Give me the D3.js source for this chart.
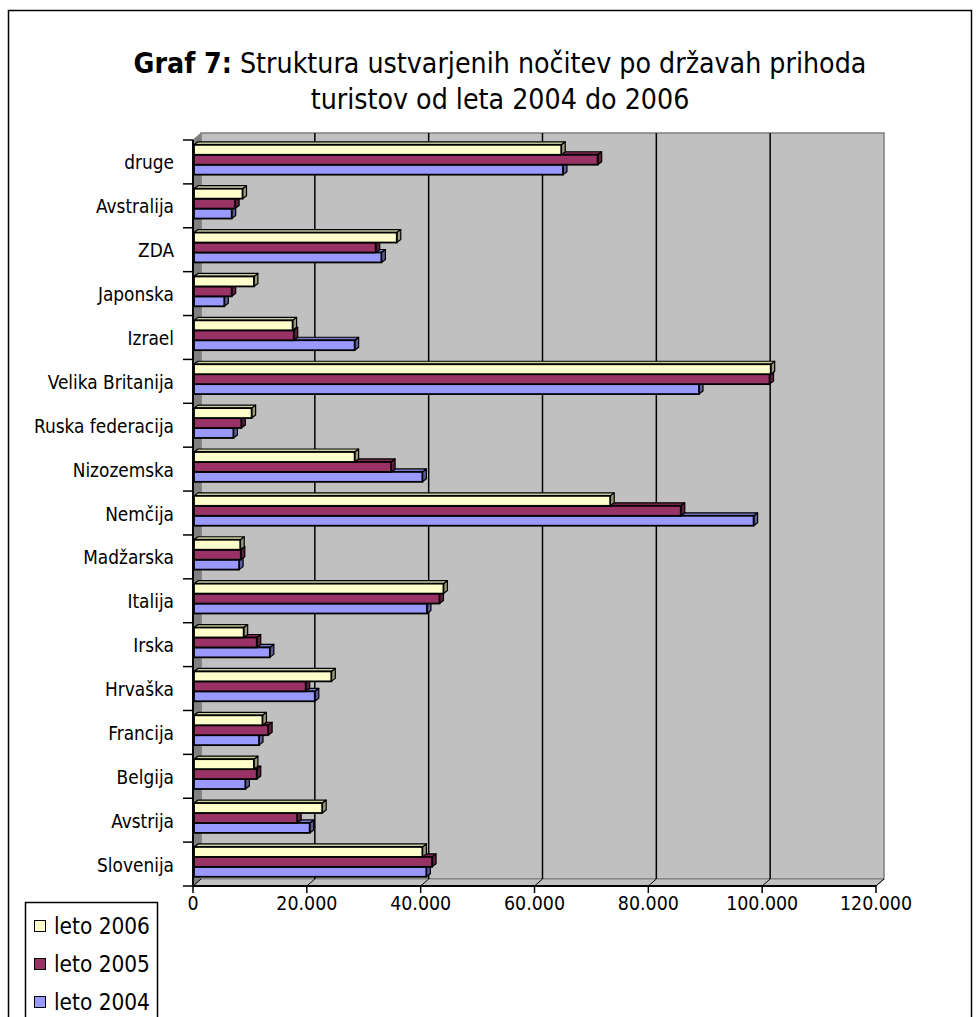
<!DOCTYPE html>
<html>
<head>
<meta charset="utf-8">
<script src="https://cdn.jsdelivr.net/npm/d3@7"></script>
<style>
  html, body { margin: 0; padding: 0; background: #fff; }
  svg { display: block; }
  text { font-family: Tahoma, "DejaVu Sans Condensed", "DejaVu Sans", sans-serif; fill: #000; }
</style>
</head>
<body>
<svg id="chart" width="980" height="1017"></svg>
<script>
// Countries, bottom to top as they appear on the category axis
const categories = ["Slovenija", "Avstrija", "Belgija", "Francija", "Hrvaška", "Irska", "Italija",
  "Madžarska", "Nemčija", "Nizozemska", "Ruska federacija", "Velika Britanija", "Izrael",
  "Japonska", "ZDA", "Avstralija", "druge"];

// Overnight stays per year
const leto2006 = [40300, 22700, 10700, 12200, 24300, 8900, 44000, 8300, 73300, 28400, 10300, 101500, 17500, 10700, 35800, 8700, 64700];
const leto2005 = [42000, 18300, 11200, 13200, 19800, 11200, 43300, 8400, 85700, 34800, 8500, 101300, 17700, 6800, 32100, 7400, 71100];
const leto2004 = [41000, 20500, 9200, 11600, 21400, 13500, 41100, 8100, 98500, 40300, 7100, 88900, 28400, 5500, 33100, 6800, 65000];

const seriesNames = ["leto 2006", "leto 2005", "leto 2004"];
const seriesColors = ["#FFFFCC", "#993366", "#9999FF"];
const xTicks = [0, 20000, 40000, 60000, 80000, 100000, 120000];

const series = [
  { name: seriesNames[0], values: leto2006, color: seriesColors[0] },
  { name: seriesNames[1], values: leto2005, color: seriesColors[1] },
  { name: seriesNames[2], values: leto2004, color: seriesColors[2] }
];

const svg = d3.select("#chart");
const fmt = d3.formatLocale({ decimal: ",", thousands: ".", grouping: [3], currency: ["", " €"] }).format(",d");

// Font size that makes a sample string a given width
function fitSize(sample, targetWidth, base) {
  const probe = svg.append("text").style("font-size", base + "px").text(sample);
  const w = probe.node().getComputedTextLength();
  probe.remove();
  return base * targetWidth / w;
}
const labelSize = fitSize("Slovenija", 77, 16);
const tickSize = fitSize("20.000", 61, 16);
const legendSize = fitSize("leto 2006", 96, 16);

// Outer frame
svg.append("rect").attr("x", 8.5).attr("y", 10.5).attr("width", 963).attr("height", 1030)
  .attr("fill", "#fff").attr("stroke", "#000").attr("stroke-width", 1.5);

// Title
const title = svg.append("g");
const t1 = title.append("text").attr("x", 500).attr("y", 73).attr("text-anchor", "middle").style("font-size", "25px");
t1.append("tspan").attr("font-weight", "bold").text("Graf 7:");
t1.append("tspan").text(" Struktura ustvarjenih nočitev po državah prihoda");
const t2 = title.append("text").attr("x", 500).attr("y", 109).attr("text-anchor", "middle").style("font-size", "25px")
  .text("turistov od leta 2004 do 2006");
const w1 = t1.node().getComputedTextLength();
const titleSize = 25 * 733 / w1;
t1.style("font-size", titleSize + "px");
t2.style("font-size", titleSize + "px");

// Scales
const x = d3.scaleLinear().domain([0, 120000]).range([193, 876]);
const y = d3.scaleBand().domain(categories.slice().reverse()).range([140, 886]);
const bw = y.bandwidth();
const yIn = d3.scaleBand().domain(seriesNames).range([bw * 0.11, bw * 0.79]);

// Depth of the walls and of the bars
const DX = 8, DY = -7;
const BDX = 4, BDY = -3;

const x0 = x(0), xMax = x(120000), yTop = 140, yBot = 886;

// Back wall
svg.append("polygon")
  .attr("points", [[x0 + DX, yTop + DY], [xMax + DX, yTop + DY], [xMax + DX, yBot + DY], [x0 + DX, yBot + DY]].join(" "))
  .attr("fill", "#C0C0C0").attr("stroke", "#808080").attr("stroke-width", 1.5);
// Side wall
svg.append("polygon")
  .attr("points", [[x0, yTop], [x0 + DX, yTop + DY], [x0 + DX, yBot + DY], [x0, yBot]].join(" "))
  .attr("fill", "#808080").attr("stroke", "#808080").attr("stroke-width", 1);
// Floor
svg.append("polygon")
  .attr("points", [[x0, yBot], [x0 + DX, yBot + DY], [xMax + DX, yBot + DY], [xMax, yBot]].join(" "))
  .attr("fill", "#C0C0C0").attr("stroke", "#808080").attr("stroke-width", 1);

// Gridlines on the back wall and floor
const grid = svg.append("g");
xTicks.filter(d => d > 0 && d < 120000).forEach(d => {
  grid.append("line").attr("x1", x(d) + DX).attr("x2", x(d) + DX).attr("y1", yTop + DY).attr("y2", yBot + DY)
    .attr("stroke", "#000").attr("stroke-width", 1.5);
});
xTicks.forEach(d => {
  grid.append("line").attr("x1", x(d)).attr("y1", yBot).attr("x2", x(d) + DX).attr("y2", yBot + DY)
    .attr("stroke", "#000").attr("stroke-width", 1);
});

// Bars
const darker = (c, k) => { const col = d3.color(c); return d3.rgb(col.r * k, col.g * k, col.b * k).toString(); };
const barsG = svg.append("g");
categories.forEach((cat, i) => {
  // draw the lowest bar first so the bar above covers its top face
  series.slice().reverse().forEach(s => {
    const v = s.values[i];
    const xa = x(0) + 1, xb = x(v);
    const ya = y(cat) + yIn(s.name), h = yIn.bandwidth();
    const g = barsG.append("g");
    g.append("polygon")
      .attr("points", [[xb, ya], [xb + BDX, ya + BDY], [xb + BDX, ya + h + BDY], [xb, ya + h]].join(" "))
      .attr("fill", darker(s.color, 0.6)).attr("stroke", "#000").attr("stroke-width", 1.2).attr("stroke-linejoin", "round");
    g.append("polygon")
      .attr("points", [[xa, ya], [xa + BDX, ya + BDY], [xb + BDX, ya + BDY], [xb, ya]].join(" "))
      .attr("fill", darker(s.color, 0.8)).attr("stroke", "#000").attr("stroke-width", 1.2).attr("stroke-linejoin", "round");
    g.append("rect").attr("x", xa).attr("y", ya).attr("width", Math.max(0, xb - xa)).attr("height", h)
      .attr("fill", s.color).attr("stroke", "#000").attr("stroke-width", 1.8);
  });
});

// Category axis
const yAxisG = svg.append("g");
yAxisG.append("line").attr("x1", x0).attr("x2", x0).attr("y1", yTop).attr("y2", yBot)
  .attr("stroke", "#000").attr("stroke-width", 2);
const boundaries = categories.map(c => y(c)).concat([yBot]);
boundaries.forEach(b => {
  yAxisG.append("line").attr("x1", x0 - 10).attr("x2", x0).attr("y1", b).attr("y2", b)
    .attr("stroke", "#000").attr("stroke-width", 1.5);
});
categories.forEach(c => {
  yAxisG.append("text").attr("x", 174).attr("y", y(c) + bw / 2 + 2).attr("text-anchor", "end")
    .attr("dominant-baseline", "middle").style("font-size", labelSize + "px").text(c);
});

// Value axis
const xAxisG = svg.append("g");
xAxisG.append("line").attr("x1", x0).attr("x2", xMax).attr("y1", yBot).attr("y2", yBot)
  .attr("stroke", "#000").attr("stroke-width", 2);
xTicks.forEach(d => {
  xAxisG.append("line").attr("x1", x(d)).attr("x2", x(d)).attr("y1", yBot).attr("y2", yBot + 7)
    .attr("stroke", "#000").attr("stroke-width", 1.5);
  xAxisG.append("text").attr("x", x(d)).attr("y", yBot + 18).attr("text-anchor", "middle")
    .attr("dominant-baseline", "middle").style("font-size", tickSize + "px").text(fmt(d));
});

// Legend
const legend = svg.append("g");
legend.append("rect").attr("x", 25.5).attr("y", 902.5).attr("width", 132).attr("height", 140)
  .attr("fill", "#fff").attr("stroke", "#000").attr("stroke-width", 1.5);
series.forEach((s, i) => {
  const cy = 926 + i * 38;
  legend.append("rect").attr("x", 34.5).attr("y", cy - 5.5).attr("width", 11).attr("height", 11)
    .attr("fill", s.color).attr("stroke", "#000").attr("stroke-width", 1);
  legend.append("text").attr("x", 54).attr("y", cy + 1).attr("dominant-baseline", "middle")
    .style("font-size", legendSize + "px").text(s.name);
});
</script>
</body>
</html>
